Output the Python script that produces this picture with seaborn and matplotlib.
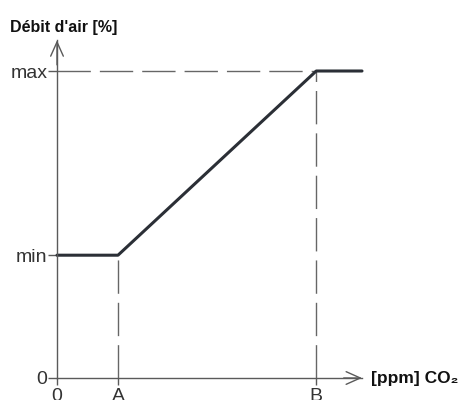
import matplotlib
matplotlib.use("Agg")
import matplotlib.pyplot as plt
import seaborn as sns
import pandas as pd

# ---- data ----
x_tick_values = [0, 1, 4.25]
x_tick_labels = ["0", "A", "B"]
y_tick_values = [0, 40, 100]
y_tick_labels = ["0", "min", "max"]
curve_x = [0, 1, 4.25, 5.0]
curve_y = [40, 40, 100, 100]
x_axis_end = 5.0
y_axis_end = 110
y_title = "Débit d'air [%]"
x_title = "[ppm] CO₂"

sns.set_theme(style="white")
plt.rcParams["font.family"] = ["Liberation Sans", "DejaVu Sans"]

W, H = 461, 400
fig = plt.figure(figsize=(W / 100, H / 100), dpi=100)
ax = fig.add_axes([0, 0, 1, 1])
ax.set_facecolor("white")

# pixel mapping: origin at (57, 378); 61 px per x-unit; 3.07 px per %
ox, oy, sx, sy = 57, 378, 61.0, 3.07
ax.set_xlim(-ox / sx, (W - ox) / sx)
ax.set_ylim(-(H - oy) / sy, oy / sy)

axis_col = "#5a5a5a"
line_col = "#2b2f36"
dash_col = "#666666"

# spines as axes through origin
for s in ["top", "right"]:
    ax.spines[s].set_visible(False)
ax.spines["left"].set_position(("data", 0))
ax.spines["bottom"].set_position(("data", 0))
ax.spines["left"].set_bounds(0, y_axis_end)
ax.spines["bottom"].set_bounds(0, x_axis_end)
for s in ["left", "bottom"]:
    ax.spines[s].set_color(axis_col)
    ax.spines[s].set_linewidth(1.0)

# arrow heads
arrow = dict(arrowstyle="->,head_length=0.85,head_width=0.38", lw=1.0,
             color=axis_col, shrinkA=0, shrinkB=0)
ax.annotate("", xy=(0, y_axis_end), xytext=(0, y_axis_end - 8), arrowprops=arrow)
ax.annotate("", xy=(x_axis_end, 0), xytext=(x_axis_end - 0.3, 0), arrowprops=arrow)

# dashed reference lines
dash = dict(color=dash_col, lw=1.0, dashes=(24, 6.5))
ax.plot([curve_x[0], curve_x[2]], [curve_y[2], curve_y[2]], **dash)
ax.plot([curve_x[1], curve_x[1]], [0, curve_y[1]], **dash)
ax.plot([curve_x[2], curve_x[2]], [0, curve_y[2]], **dash)

# main curve
df = pd.DataFrame({"x": curve_x, "y": curve_y})
sns.lineplot(data=df, x="x", y="y", ax=ax, color=line_col, lw=2.2,
             sort=False, estimator=None)
ax.set_xlabel("")
ax.set_ylabel("")

# ticks
ax.set_xticks(x_tick_values)
ax.set_xticklabels(x_tick_labels)
ax.set_yticks(y_tick_values)
ax.set_yticklabels(y_tick_labels)
ax.tick_params(axis="y", direction="out", length=6.5, width=1.0, pad=0.5,
               labelsize=14, colors=axis_col, labelcolor="#333333", left=True)
ax.tick_params(axis="x", direction="out", length=5, width=1.0, pad=2.5,
               labelsize=14, colors=axis_col, labelcolor="#333333", bottom=True)
ax.grid(False)

# axis titles
ax.text(x_axis_end + 9 / sx, 0, x_title, fontsize=12.5, fontweight="bold",
        va="center", ha="left", color="#111111")
fig.text(10 / W, 1 - 32 / H, y_title, fontsize=11.5, fontweight="bold",
         va="baseline", ha="left", color="#111111")

fig.savefig("out.png", dpi=100)
